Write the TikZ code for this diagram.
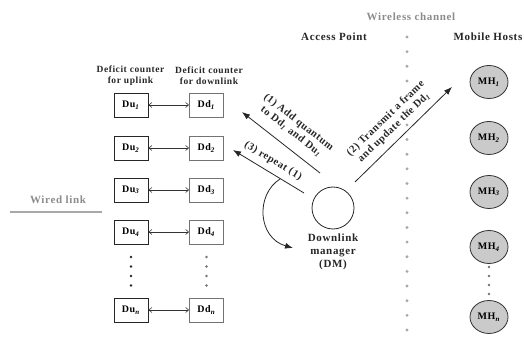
\documentclass[tikz,border=0pt]{standalone}
\usepackage{fontspec}
\setmainfont{Liberation Serif}[LetterSpace=6]
\usetikzlibrary{arrows.meta,shapes.geometric}
\newcommand\sbs[1]{\textsubscript{\textit{#1}}}
\definecolor{wgray}{HTML}{8C8C8C}
\definecolor{dgray}{HTML}{A8A8A8}
\definecolor{mhfill}{HTML}{CACACA}
\tikzset{
  txt/.style={font=\bfseries\fontsize{9.5}{11}\selectfont, text=black!85, align=center, inner sep=0pt},
  ttl/.style={txt, font=\bfseries\fontsize{11}{13}\selectfont},
  lbl/.style={txt, font=\bfseries\fontsize{10.5}{12}\selectfont},
  ubox/.style={draw=black!85, line width=0.9pt, minimum width=34pt, minimum height=24pt, inner sep=0pt, font=\bfseries\fontsize{10}{12}\selectfont},
  dbox/.style={ubox, draw=black!55},
  link/.style={{Straight Barb[length=3pt,width=5pt]}-{Straight Barb[length=3pt,width=5pt]}, line width=0.6pt, black!80},
  bigarrow/.style={-{Latex[length=8pt,width=6pt]}, line width=0.8pt, black!85},
  mh/.style={ellipse, draw=black!80, fill=mhfill, line width=0.8pt, minimum width=38pt, minimum height=33pt, inner sep=0pt, font=\bfseries\fontsize{10}{12}\selectfont},
  dm/.style={circle, draw=black!85, line width=0.8pt, minimum size=42pt, inner sep=0pt},
  wdot/.style={circle, fill=dgray, minimum size=3.2pt, inner sep=0pt},
  bdot/.style={circle, fill=black!85, minimum size=2.6pt, inner sep=0pt},
  gdot/.style={circle, fill=black!55, minimum size=2.6pt, inner sep=0pt},
}
\begin{document}
\begin{tikzpicture}[x=1pt,y=-1pt]
\useasboundingbox (0,0) rectangle (524,344);
% headers
\node[txt] (hu) at (130.5,76) {Deficit counter\\for uplink};
\node[txt] (hd) at (209,76) {Deficit counter\\for downlink};
\node[ttl] (ap) at (334,37) {Access Point};
\node[ttl, text=wgray] (wc) at (411,17) {Wireless channel};
\node[ttl] (mhh) at (488,37) {Mobile Hosts};
% deficit counters
\foreach \i/\y/\s in {1/105/1, 2/148/2, 3/190/3, 4/232/4, n/310/n}{
  \node[ubox] (du\i) at (131,\y) {Du\sbs{\s}};
  \node[dbox] (dd\i) at (206.5,\y) {Dd\sbs{\s}};
  \draw[link] (du\i) -- (dd\i);
}
\foreach \y [count=\k] in {257,266.5,276,285.5}{
  \node[bdot] (bu\k) at (131,\y) {};
  \node[gdot] (bd\k) at (206.5,\y) {};
}
% wired link
\node[ttl, text=wgray] (wl) at (58,200) {Wired link};
\coordinate (wl1) at (10,212);
\coordinate (wl2) at (102,212);
\draw[dgray, line width=2pt] (wl1) -- (wl2);
% wireless channel dots
\foreach \k in {0,...,20}{
  \node[wdot] (w\k) at (407,37+14.65*\k) {};
}
% downlink manager
\node[dm] (dm) at (333,208) {};
\node[ttl] (dmt) at (333,252) {Downlink\\manager\\(DM)};
% arrows
\coordinate (a1s) at (320,173);
\coordinate (a1e) at (242,112);
\coordinate (a3s) at (304,193);
\coordinate (a3e) at (233,150);
\coordinate (a2s) at (355,182);
\coordinate (a2e) at (452,87);
\draw[bigarrow] (a1s) -- (a1e);
\draw[bigarrow] (a3s) -- (a3e);
\draw[bigarrow] (a2s) -- (a2e);
\coordinate (cs) at (280,179);
\coordinate (ce) at (293,248);
\draw[bigarrow] (cs) .. controls (255,195) and (258,238) .. (ce);
\node[lbl, rotate=-38] (l1) at (295,127) {(1) Add quantum\\to Dd\sbs{1} and Du\sbs{1}};
\node[lbl, rotate=-31] (l3) at (273,161) {(3) repeat (1)};
\node[lbl, rotate=44] (l2) at (390,123) {(2) Transmit a frame\\and update the Dd\sbs{1}};
% mobile hosts
\foreach \i/\y/\s in {1/82/1, 2/138/2, 3/192/3, 4/247/4, n/317/n}{
  \node[mh] (mh\i) at (489,\y) {MH\sbs{\s}};
}
\foreach \y [count=\k] in {267,276,285,294}{
  \node[gdot] (md\k) at (489,\y) {};
}
\end{tikzpicture}
\end{document}
